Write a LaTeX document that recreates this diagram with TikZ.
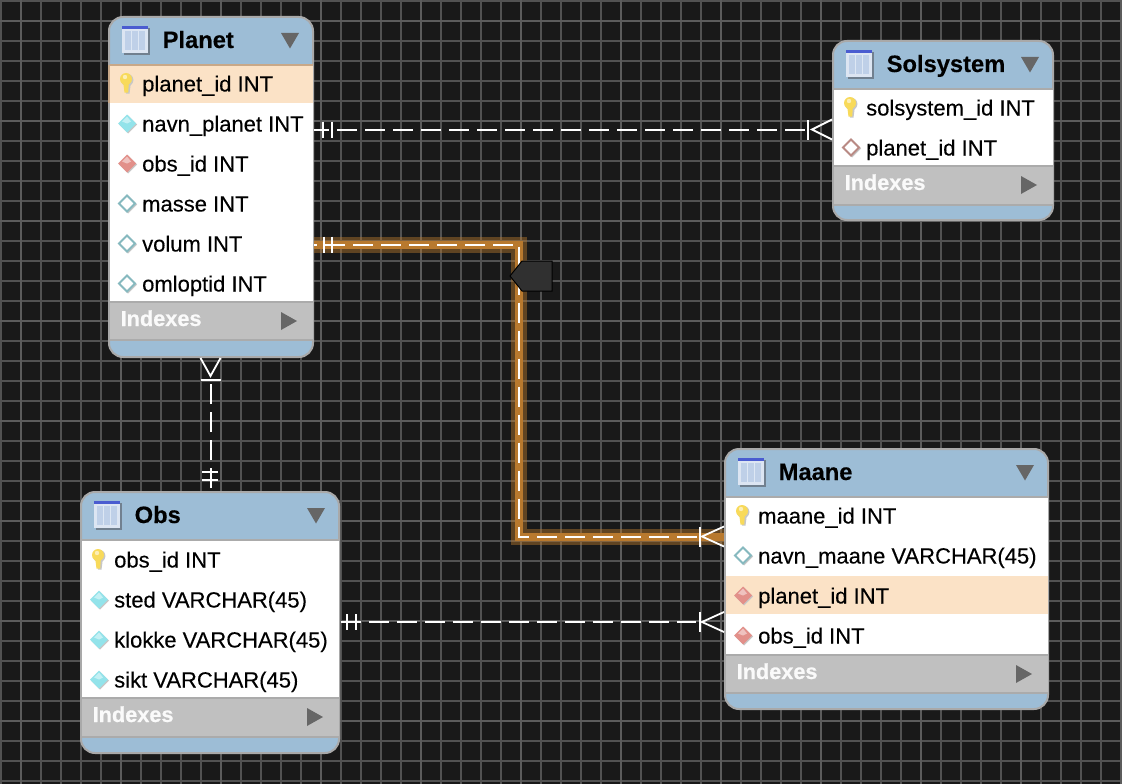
\documentclass[tikz,border=0pt]{standalone}
\usepackage{fontspec}
\setmainfont{Liberation Sans}
\usetikzlibrary{calc}
\definecolor{bgc}{HTML}{191919}
\definecolor{gridc}{HTML}{525252}
\definecolor{gridd}{HTML}{5C5C5C}
\definecolor{headc}{HTML}{9DBDD6}
\definecolor{framec}{HTML}{A9A9A9}
\definecolor{idxc}{HTML}{C0C0C0}
\definecolor{sepc}{HTML}{ABABAB}
\definecolor{hlc}{HTML}{FBE2C6}
\definecolor{hledge}{HTML}{C8A888}
\definecolor{arrowc}{HTML}{666666}
\definecolor{cyanf}{HTML}{93E3EA}
\definecolor{cyane}{HTML}{86B9BF}
\definecolor{redf}{HTML}{E2908A}
\definecolor{rede}{HTML}{B98A84}
\definecolor{keyc}{HTML}{F8DA5A}
\definecolor{glowi}{HTML}{B8792E}
\definecolor{labc}{HTML}{303030}
\definecolor{iconband}{HTML}{4A5CD0}
\definecolor{iconframe}{HTML}{DCE5F2}
\definecolor{iconin}{HTML}{BFD0E8}
\definecolor{iconcol}{HTML}{DDE7F4}
\definecolor{iconshadow}{HTML}{71808F}
\tikzset{
  erbox/.style={draw=framec,fill=headc,line width=2pt,rounded corners=14pt,inner sep=0pt},
  coltext/.style={anchor=base west,inner sep=0pt,font=\fontsize{22pt}{22pt}\selectfont\addfontfeatures{FakeBold=0.2},text=black},
  titletext/.style={anchor=base west,inner sep=0pt,font=\fontsize{23.7pt}{24pt}\selectfont\bfseries\addfontfeatures{FakeBold=0.3},text=black},
  idxtext/.style={anchor=base west,inner sep=0pt,font=\fontsize{21.7pt}{22pt}\selectfont\bfseries\addfontfeatures{FakeBold=0.6},text=white!96!gray},
  rel/.style={draw=white,line width=2pt,dash pattern=on 20pt off 8pt},
  relsolid/.style={draw=white,line width=1.8pt},
  glowouter/.style={draw=glowi,opacity=.45,line width=16pt},
  glowinner/.style={draw=glowi,line width=8pt},
}
% name x1 x2 ytop yhead ywhite ygray ybot title
\newcommand{\ertable}[9]{%
  \pgfmathsetmacro{\bw}{#3-#2-1}\pgfmathsetmacro{\bh}{#8-#4-1}%
  \pgfmathsetmacro{\bx}{(#2+#3)/2-.5}\pgfmathsetmacro{\by}{(#4+#8)/2-.5}%
  \node[erbox,minimum width=\bw pt,minimum height=\bh pt] (#1) at (\bx,\by) {};
  \fill[white] (#2+1,#5) rectangle (#3-1.5,#6);
  \fill[idxc] (#2+1,#6) rectangle (#3-1.5,#7);
  \draw[sepc,line width=2pt] (#2+1,#5) -- (#3-1.5,#5);
  \draw[sepc,line width=2pt] (#2+1,#6) -- (#3-1.5,#6);
  \draw[sepc,line width=2pt] (#2+1,#7) -- (#3-1.5,#7);
  % table icon
  \fill[iconshadow] (#2+15,#4+11) rectangle (#2+41,#4+38);
  \fill[iconframe] (#2+13,#4+9) rectangle (#2+39,#4+36);
  \fill[iconin] (#2+16,#4+14) rectangle (#2+36,#4+33);
  \draw[iconcol,line width=1.5pt] (#2+22.5,#4+14) -- (#2+22.5,#4+33) (#2+29.5,#4+14) -- (#2+29.5,#4+33);
  \fill[iconband] (#2+13,#4+9) rectangle (#2+39,#4+12);
  % collapse triangle
  \fill[arrowc] (#3-33,#4+16) -- (#3-15,#4+16) -- (#3-24,#4+31.5) -- cycle;
  \node[titletext] (#1title) at (#2+53.5,#4+31) {#9};
  % indexes band
  \node[idxtext] (#1idx) at (#2+11.5,#6+24) {Indexes};
  \fill[arrowc] (#3-33,#6+10) -- (#3-17,#6+19) -- (#3-33,#6+28) -- cycle;
}
% name x y text
\newcommand{\ercol}[4]{\node[coltext] (#1) at (#2+33,#3+7.5) {#4};}
\newcommand{\keyicon}[2]{%
  \fill[black!22] (#1+1.2,#2-4) circle (6.2pt);
  \fill[black!22] (#1-1.5,#2-2) -- (#1+5,#2-2) -- (#1+3.5,#2+9.5) -- (#1,#2+9.5) -- cycle;
  \fill[keyc] (#1,#2-5) circle (6pt);
  \fill[keyc] (#1-3,#2-3) -- (#1+3,#2-3) -- (#1+2.2,#2+8.5) -- (#1-1.5,#2+8.5) -- cycle;
  \fill[white!55!keyc] (#1-1,#2-7) circle (2.2pt);
}
% filled diamond: x y fill
\newcommand{\dmdf}[3]{%
  \fill[black!22] (#1+1,#2-8) -- (#1+10,#2+1) -- (#1+1,#2+10) -- (#1-8,#2+1) -- cycle;
  \fill[#3] (#1,#2-9) -- (#1+9,#2) -- (#1,#2+9) -- (#1-9,#2) -- cycle;
  \fill[white!45!#3] (#1,#2-7) -- (#1+4,#2-2) -- (#1,#2) -- (#1-5,#2-2) -- cycle;
}
% hollow diamond: x y edge
\newcommand{\dmdh}[3]{%
  \fill[black!22] (#1+1,#2-8) -- (#1+10,#2+1) -- (#1+1,#2+10) -- (#1-8,#2+1) -- cycle;
  \filldraw[fill=white,draw=#3,line width=1.8pt] (#1,#2-8) -- (#1+8,#2) -- (#1,#2+8) -- (#1-8,#2) -- cycle;
}
\begin{document}
\begin{tikzpicture}[x=1pt,y=-1pt]
\useasboundingbox (0,0) rectangle (1122,784);
\fill[bgc] (0,0) rectangle (1122,784);
\foreach \gx in {1,21,...,1121} \draw[gridc,line width=2pt] (\gx,0) -- (\gx,784);
\foreach \gy in {1,21,...,781} \draw[gridc,line width=2pt] (0,\gy) -- (1122,\gy);
\foreach \gx in {21,121,...,1121} \draw[gridd,line width=2pt] (\gx,0) -- (\gx,784);
\foreach \gy in {21,121,...,781} \draw[gridd,line width=2pt] (0,\gy) -- (1122,\gy);

% ---- tables
\ertable{planet}{109}{314}{17}{65}{302}{340}{358}{Planet}
\fill[hlc] (110,66) rectangle (312.5,103);
\draw[hledge,line width=2pt] (110,65) -- (312.5,65);
\draw[hledge,line width=1.5pt] (109,65) -- (109,103);
\keyicon{126}{84}\ercol{planetA}{109}{84}{planet\_id INT}
\dmdf{127}{123.5}{cyanf}\ercol{planetB}{109}{124}{navn\_planet INT}
\dmdf{127}{163.5}{redf}\ercol{planetC}{109}{164}{obs\_id INT}
\dmdh{127}{203.5}{cyane}\ercol{planetD}{109}{204}{masse INT}
\dmdh{127}{243.5}{cyane}\ercol{planetE}{109}{244}{volum INT}
\dmdh{127}{283.5}{cyane}\ercol{planetF}{109}{284}{omloptid INT}

\ertable{solsystem}{833}{1054}{41}{89}{166}{205}{221}{Solsystem}
\keyicon{850}{108}\ercol{solA}{833}{108}{solsystem\_id INT}
\dmdh{851}{147.5}{rede}\ercol{solB}{833}{148}{planet\_id INT}

\ertable{obs}{81}{340}{492}{540}{698}{737}{754}{Obs}
\keyicon{98}{560}\ercol{obsA}{81}{560}{obs\_id INT}
\dmdf{99}{599.5}{cyanf}\ercol{obsB}{81}{600}{sted VARCHAR(45)}
\dmdf{99}{639.5}{cyanf}\ercol{obsC}{81}{640}{klokke VARCHAR(45)}
\dmdf{99}{679.5}{cyanf}\ercol{obsD}{81}{680}{sikt VARCHAR(45)}

\ertable{maane}{725}{1049}{449}{497}{655}{693}{710}{Maane}
\fill[hlc] (726,576) rectangle (1047.5,614);
\keyicon{742}{516}\ercol{maaneA}{725}{516}{maane\_id INT}
\dmdh{743}{555.5}{cyane}\ercol{maaneB}{725}{556}{navn\_maane VARCHAR(45)}
\dmdf{743}{595.5}{redf}\ercol{maaneC}{725}{596}{planet\_id INT}
\dmdf{743}{635.5}{redf}\ercol{maaneD}{725}{636}{obs\_id INT}

% ---- connector end points on the table edges
\coordinate (ps1) at (planet.east |- 0,129.5);
\coordinate (ps2) at (solsystem.west |- 0,129.5);
\coordinate (pm1) at (planet.east |- 0,244.5);
\coordinate (pmc1) at (519,244.5);
\coordinate (pmc2) at (519,536.5);
\coordinate (pm2) at (maane.west |- 0,536.5);
\coordinate (om1) at (obs.east |- 0,622);
\coordinate (om2) at (maane.west |- 0,622);
\coordinate (po1) at (210.5,358);
\coordinate (po2) at (210.5,492);

% ---- highlighted relation
\draw[glowouter] (pm1) -- (pmc1) -- (pmc2) -- (pm2);
\draw[glowinner] (pm1) -- (pmc1) -- (pmc2) -- (pm2);
\draw[rel,dash phase=17pt] (pm1) -- (pmc1) -- (pmc2) -- ($(pm2)+(-25,0)$);
\draw[relsolid] (324,236.5) -- (324,252.5) (332,236.5) -- (332,252.5);
\draw[relsolid] (700,526.5) -- (700,546.5);
\draw[relsolid] ($(pm2)+(0,-10)$) -- ($(pm2)+(-22,0)$) -- ($(pm2)+(0,10)$);

% ---- Planet - Solsystem
\draw[rel,dash phase=5pt] (ps1) -- ($(ps2)+(-27,0)$);
\draw[relsolid] (323,121.5) -- (323,137.5) (332,121.5) -- (332,137.5);
\draw[relsolid] (808,120) -- (808,139.5);
\draw[relsolid] ($(ps2)+(0,-10)$) -- ($(ps2)+(-20,0)$) -- ($(ps2)+(0,10)$);

% ---- Obs - Maane
\draw[rel,dash phase=27pt] (om1) -- ($(om2)+(-28,0)$);
\draw[relsolid] (347,614) -- (347,630) (356,614) -- (356,630);
\draw[relsolid] (700,612) -- (700,632);
\draw[relsolid] ($(om2)+(0,-10)$) -- ($(om2)+(-22,0)$) -- ($(om2)+(0,10)$);

% ---- Planet - Obs
\draw[rel,dash phase=24pt] (po2) -- ($(po1)+(0,22)$);
\draw[relsolid] (202,472) -- (218,472) (202,480) -- (218,480);
\draw[relsolid] (200.5,380) -- (220.5,380);
\draw[relsolid] ($(po1)+(-10,0)$) -- ($(po1)+(0,18)$) -- ($(po1)+(10,0)$);

% ---- relation label
\fill[labc,draw=black,line width=1pt] (552,261) -- (552,291) -- (522,291) -- (510,276) -- (522,261) -- cycle;
\end{tikzpicture}
\end{document}
